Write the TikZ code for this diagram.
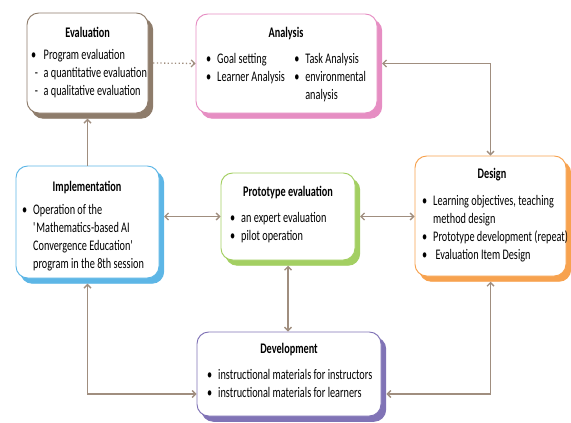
\documentclass[tikz,border=0pt]{standalone}
\usepackage{fontspec}
\setmainfont{Carlito}[FakeStretch=0.7]
\usetikzlibrary{positioning,calc,arrows.meta}

\definecolor{evalcol}{HTML}{8E7C6B}
\definecolor{anacol}{HTML}{E68EC3}
\definecolor{implcol}{HTML}{5DB6E6}
\definecolor{protcol}{HTML}{A3CF62}
\definecolor{descol}{HTML}{F7A24F}
\definecolor{devcol}{HTML}{8073B6}
\definecolor{linkcol}{HTML}{A08E7F}

\tikzset{
  stage/.style={draw=#1, fill=white, line width=0.8pt, rounded corners=10pt, inner sep=0pt,
    preaction={fill=#1, draw=#1, transform canvas={xshift=4pt,yshift=-4.5pt}}},
  title/.style={font=\fontsize{12.5}{14}\selectfont\bfseries, inner sep=0pt},
  body/.style={anchor=north west, inner sep=0pt, font=\fontsize{12.5}{15.6}\selectfont},
  link/.style={draw=linkcol, line width=1.1pt, <->},
}

\begin{document}
\begin{tikzpicture}[x=0.03cm, y=-0.03cm, >={Straight Barb[length=3pt,width=6pt]}]
    \useasboundingbox (0,0) rectangle (571,422);

    % stages
    \node[stage=evalcol, minimum width=3.63cm, minimum height=3.0cm] (eval) at (87.5,63) {};
    \node[stage=anacol, minimum width=5.43cm, minimum height=2.97cm] (ana) at (286.5,63.5) {};
    \node[stage=implcol, minimum width=4.29cm, minimum height=3.36cm] (impl) at (87.5,222) {};
    \node[stage=protcol, minimum width=4.02cm, minimum height=2.61cm] (proto) at (288,216.5) {};
    \node[stage=descol, minimum width=4.53cm, minimum height=3.6cm] (des) at (490.5,216) {};
    \node[stage=devcol, minimum width=5.52cm, minimum height=2.52cm] (dev) at (289,374) {};

    % titles
    \node[title] (evaltitle) at (87.5,32) {Evaluation};
    \node[title] (anatitle) at (286,34) {Analysis};
    \node[title] (impltitle) at (87,187) {Implementation};
    \node[title] (prototitle) at (288,193) {Prototype evaluation};
    \node[title] (destitle) at (492,175) {Design};
    \node[title] (devtitle) at (289,350) {Development};

    % contents
    \node[body] (evalbody) at (31,46) {\begin{tabular}{@{}l@{\hspace{5pt}}l@{}}
      \textbullet & Program evaluation\\
      \hspace{3pt}- & a quantitative evaluation\\
      \hspace{3pt}- & a qualitative evaluation
    \end{tabular}};
    \node[body] (anabody) at (206,50) {\begin{tabular}{@{}l@{\hspace{5pt}}l@{\hspace{8pt}}l@{\hspace{5pt}}l@{}}
      \textbullet & Goal setting & \textbullet & Task Analysis\\
      \textbullet & Learner Analysis & \textbullet & environmental\\
       & & & analysis
    \end{tabular}};
    \node[body] (implbody) at (22,201) {\begin{tabular}{@{}l@{\hspace{5pt}}l@{}}
      \textbullet & Operation of the\\
       & \textquotesingle Mathematics-based AI\\
       & Convergence Education\textquotesingle\\
       & program in the 8th session
    \end{tabular}};
    \node[body] (protobody) at (230,209) {\begin{tabular}{@{}l@{\hspace{5pt}}l@{}}
      \textbullet & an expert evaluation\\
      \textbullet & pilot operation
    \end{tabular}};
    \node[body] (desbody) at (422,192) {\begin{tabular}{@{}l@{\hspace{5pt}}l@{}}
      \textbullet & Learning objectives, teaching\\
       & method design\\
      \textbullet & Prototype development (repeat)\\
      \textbullet & \hspace{2pt}Evaluation Item Design
    \end{tabular}};
    \node[body] (devbody) at (207,366) {\begin{tabular}{@{}l@{\hspace{5pt}}l@{}}
      \textbullet & instructional materials for instructors\\
      \textbullet & instructional materials for learners
    \end{tabular}};

    % connectors
    \draw[link, <-] ([yshift=-4.5pt]eval.south) -- (impl.north);
    \draw[link, ->, dotted] ([xshift=4pt]eval.east) -- (ana.west);
    \draw[link] ([xshift=4pt]ana.east) -| (des.north);
    \draw[link] ([xshift=4pt]impl.east |- proto.west) -- (proto.west);
    \draw[link] ([xshift=4pt]proto.east) -- (proto.east -| des.west);
    \draw[link] ([yshift=-4.5pt]proto.south) -- (proto.south |- dev.north);
    \draw[link] ([yshift=-4.5pt]impl.south) |- ($(dev.west)+(0,20)$);
    \draw[link] ([yshift=-4.5pt]des.south) |- ($(dev.east)+(5,20)$);
\end{tikzpicture}
\end{document}
